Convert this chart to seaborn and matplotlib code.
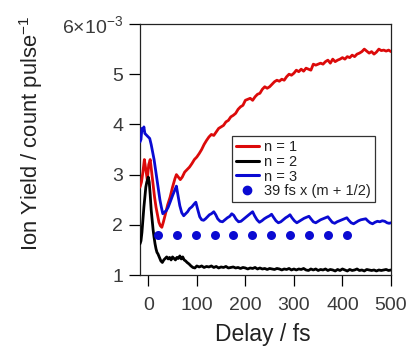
import matplotlib
matplotlib.use("Agg")
import matplotlib.pyplot as plt
import seaborn as sns
import numpy as np
from matplotlib.lines import Line2D

# ---- data (ion yield in units of 1e-3 count/pulse) ----
red_x = [-17, -14, -11, -8, -5, -2, 1, 4, 7, 10, 13, 16, 19, 22, 25, 28, 31, 35, 40, 45,
         50, 55, 58, 62, 66, 70, 75, 80, 85, 90, 95, 100, 105, 110, 115, 120, 125, 130, 135, 140,
         145, 150, 155, 160, 165, 170, 175, 180, 185, 190, 195, 200, 205, 210, 215, 220, 225, 230, 235, 240,
         245, 250, 255, 260, 265, 270, 275, 280, 285, 290, 295, 300, 305, 310, 315, 320, 325, 330, 335, 340,
         345, 350, 355, 360, 365, 370, 375, 380, 385, 390, 395, 400, 405, 410, 415, 420, 425, 430, 435, 440,
         445, 450, 455, 460, 465, 470, 475, 480, 485, 490, 495, 500]
red_y = [2.75, 2.85, 3.05, 3.30, 3.10, 2.90, 3.20, 3.30, 3.05, 2.80, 2.55, 2.35, 2.20, 2.05, 1.98, 1.95, 2.05, 2.20, 2.40, 2.55,
         2.75, 2.92, 3.00, 2.95, 2.90, 2.95, 3.05, 3.10, 3.15, 3.22, 3.30, 3.35, 3.42, 3.50, 3.60, 3.68, 3.75, 3.80, 3.78, 3.85,
         3.92, 3.95, 3.98, 4.05, 4.08, 4.15, 4.18, 4.22, 4.30, 4.35, 4.38, 4.48, 4.50, 4.52, 4.48, 4.55, 4.60, 4.62, 4.70, 4.75,
         4.72, 4.75, 4.80, 4.85, 4.88, 4.86, 4.90, 4.88, 4.95, 5.00, 4.98, 5.02, 5.08, 5.05, 5.10, 5.06, 5.12, 5.10, 5.08, 5.20,
         5.18, 5.20, 5.22, 5.20, 5.25, 5.28, 5.22, 5.30, 5.25, 5.28, 5.30, 5.33, 5.30, 5.35, 5.33, 5.38, 5.35, 5.40, 5.42, 5.45,
         5.50, 5.46, 5.42, 5.45, 5.40, 5.44, 5.50, 5.47, 5.48, 5.46, 5.48, 5.45]

black_x = [-17, -15, -13, -11, -9, -7, -5, -3, 0, 2, 4, 6, 8, 10, 12, 14, 16, 18, 20, 23,
           26, 29, 32, 35, 38, 41, 44, 47, 50, 53, 56, 59, 62, 65, 68, 71, 74, 77, 80, 84,
           88, 92, 96, 100, 105, 110, 115, 120, 125, 130, 135, 140, 145, 150, 155, 160, 165, 170, 175, 180,
           185, 190, 195, 200, 205, 210, 215, 220, 225, 230, 235, 240, 245, 250, 255, 260, 265, 270, 275, 280,
           285, 290, 295, 300, 305, 310, 315, 320, 325, 330, 335, 340, 345, 350, 355, 360, 365, 370, 375, 380,
           385, 390, 395, 400, 405, 410, 415, 420, 425, 430, 435, 440, 445, 450, 455, 460, 465, 470, 475, 480,
           485, 490, 495, 500]
black_y = [1.62, 1.68, 1.85, 2.10, 2.35, 2.55, 2.75, 2.85, 2.95, 2.85, 2.60, 2.30, 2.10, 1.90, 1.75, 1.62, 1.52, 1.45, 1.42, 1.35,
           1.28, 1.25, 1.30, 1.33, 1.36, 1.32, 1.35, 1.30, 1.36, 1.33, 1.30, 1.35, 1.33, 1.38, 1.32, 1.36, 1.30, 1.28, 1.25, 1.22,
           1.18, 1.15, 1.14, 1.18, 1.16, 1.18, 1.15, 1.17, 1.16, 1.18, 1.15, 1.17, 1.14, 1.16, 1.15, 1.17, 1.14, 1.15, 1.16, 1.14,
           1.15, 1.13, 1.15, 1.14, 1.12, 1.14, 1.13, 1.15, 1.12, 1.14, 1.12, 1.13, 1.11, 1.13, 1.12, 1.11, 1.13, 1.12, 1.10, 1.12,
           1.11, 1.13, 1.10, 1.12, 1.10, 1.12, 1.11, 1.13, 1.10, 1.09, 1.12, 1.10, 1.12, 1.09, 1.11, 1.10, 1.12, 1.09, 1.11, 1.10,
           1.08, 1.11, 1.09, 1.12, 1.10, 1.08, 1.11, 1.09, 1.10, 1.12, 1.09, 1.10, 1.08, 1.11, 1.10, 1.09, 1.10, 1.08, 1.10, 1.09,
           1.10, 1.11, 1.09, 1.10]

blue_x = [-17, -15, -13, -11, -9, -7, -5, -3, 0, 3, 6, 9, 12, 15, 18, 21, 24, 27, 30, 33,
          37, 41, 45, 50, 55, 58, 61, 65, 69, 73, 77, 81, 85, 90, 95, 98, 102, 106, 110, 114,
          118, 122, 126, 130, 135, 139, 143, 148, 153, 158, 163, 168, 172, 176, 181, 186, 191, 196, 201, 206,
          211, 215, 219, 224, 229, 234, 239, 244, 250, 254, 258, 263, 268, 273, 278, 283, 288, 292, 296, 301,
          306, 311, 316, 321, 326, 331, 335, 340, 345, 350, 355, 360, 365, 370, 374, 379, 384, 389, 394, 399,
          404, 409, 413, 418, 423, 428, 433, 438, 443, 448, 452, 457, 462, 467, 472, 477, 482, 487, 492, 496, 500]
blue_y = [3.65, 3.70, 3.92, 3.88, 3.95, 3.82, 3.80, 3.78, 3.75, 3.72, 3.60, 3.45, 3.30, 3.10, 2.90, 2.70, 2.50, 2.35, 2.22, 2.25,
          2.28, 2.35, 2.45, 2.58, 2.70, 2.77, 2.60, 2.38, 2.24, 2.18, 2.22, 2.26, 2.32, 2.36, 2.42, 2.45, 2.30, 2.16, 2.10, 2.09,
          2.12, 2.16, 2.20, 2.22, 2.26, 2.20, 2.12, 2.07, 2.06, 2.10, 2.14, 2.17, 2.22, 2.19, 2.11, 2.06, 2.07, 2.11, 2.15, 2.19,
          2.23, 2.26, 2.18, 2.10, 2.05, 2.08, 2.12, 2.15, 2.18, 2.21, 2.15, 2.08, 2.04, 2.06, 2.10, 2.14, 2.17, 2.20, 2.14, 2.08,
          2.04, 2.07, 2.10, 2.13, 2.15, 2.17, 2.12, 2.06, 2.04, 2.07, 2.10, 2.12, 2.14, 2.16, 2.11, 2.05, 2.03, 2.06, 2.08, 2.10,
          2.12, 2.14, 2.09, 2.04, 2.02, 2.05, 2.08, 2.10, 2.11, 2.12, 2.08, 2.04, 2.02, 2.05, 2.07, 2.06, 2.08, 2.07, 2.04, 2.03, 2.04]

m_index = [0, 1, 2, 3, 4, 5, 6, 7, 8, 9, 10]
period_fs = 39
dot_x = [period_fs * (m + 0.5) for m in m_index]
dot_y = [1.8] * len(m_index)

series_labels = ["n = 1", "n = 2", "n = 3", "39 fs x (m + 1/2)"]
y_ticks = [1, 2, 3, 4, 5, 6]
y_ticklabels = ["1", "2", "3", "4", "5", "6\u00d710$^{-3}$"]
x_ticks = [0, 100, 200, 300, 400, 500]

RED = "#dc0a0a"
BLACK = "#000000"
BLUE = "#0a0ad2"

sns.set_theme(style="white")
plt.rcParams["font.family"] = ["Liberation Sans", "DejaVu Sans"]
plt.rcParams["mathtext.default"] = "regular"

fig = plt.figure(figsize=(4.09, 3.47), dpi=100)
ax = fig.add_axes([140 / 409, (347 - 275) / 347, 251 / 409, 251 / 347])

lw = 2.0
sns.lineplot(x=red_x, y=red_y, color=RED, lw=lw, ax=ax, estimator=None, sort=False, zorder=3)
sns.lineplot(x=black_x, y=black_y, color=BLACK, lw=lw, ax=ax, estimator=None, sort=False, zorder=3)
sns.lineplot(x=blue_x, y=blue_y, color=BLUE, lw=lw, ax=ax, estimator=None, sort=False, zorder=3)
sns.scatterplot(x=dot_x, y=dot_y, color=BLUE, s=42, edgecolor=BLUE, linewidth=0, ax=ax, zorder=4)

ax.set_xlim(-17, 500)
ax.set_ylim(1, 6)
ax.set_xticks(x_ticks)
ax.set_yticks(y_ticks)
ax.set_yticklabels(y_ticklabels)
ax.tick_params(axis="both", which="both", direction="out", length=8, width=0.9,
               color="black", labelsize=14, labelcolor="#3a3a3a",
               bottom=True, left=True, top=False, right=False)
ax.tick_params(axis="x", pad=8)
ax.tick_params(axis="y", pad=4)
for sp in ax.spines.values():
    sp.set_visible(True)
    sp.set_color("#222222")
    sp.set_linewidth(0.9)

ax.set_xlabel("Delay / fs", fontsize=16.5, color="#222222", va="bottom")
ax.set_ylabel("Ion Yield / count pulse$^{-1}$", fontsize=15.8, color="#222222")
ax.xaxis.set_label_coords(0.49, -0.282)
ax.yaxis.set_label_coords(-0.38, 0.566)

handles = [Line2D([], [], color=RED, lw=2.2),
           Line2D([], [], color=BLACK, lw=2.2),
           Line2D([], [], color=BLUE, lw=2.2),
           Line2D([], [], color=BLUE, lw=0, marker="o", markersize=6)]
leg = ax.legend(handles, series_labels, loc="upper left", bbox_to_anchor=(0.367, 0.552),
                borderaxespad=0, fontsize=10.5, frameon=True, fancybox=False,
                edgecolor="#333333", framealpha=1, labelspacing=0.05, handlelength=1.6,
                handletextpad=0.35, borderpad=0.25)
leg.get_frame().set_linewidth(0.9)
for t in leg.get_texts():
    t.set_color("#222222")

fig.savefig("out.png", dpi=100)
